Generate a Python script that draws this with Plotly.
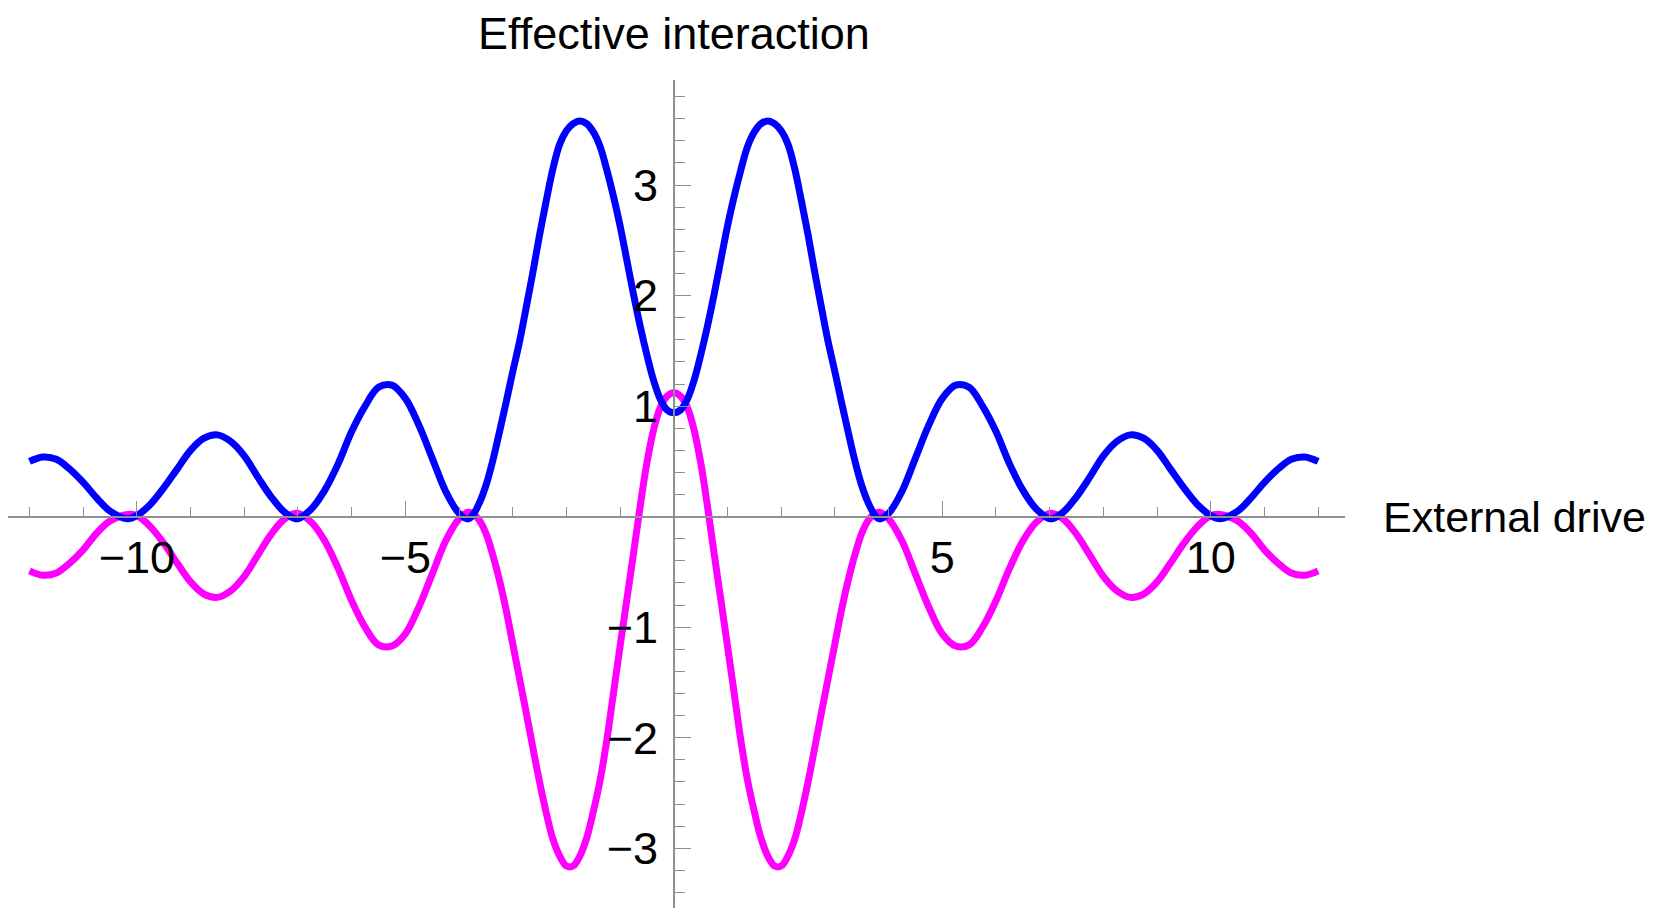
import plotly.graph_objects as go

# external drive (x) sample points
drive = [-12, -11.75, -11.5, -11.25, -11, -10.75, -10.5, -10.17, -10, -9.75,
         -9.5, -9.25, -9, -8.75, -8.5, -8.25, -8, -7.75, -7.5, -7.25,
         -7.02, -6.75, -6.5, -6.25, -6, -5.75, -5.5, -5.25, -5, -4.75,
         -4.5, -4.25, -4,
         -3.83, -3.75, -3.625, -3.5, -3.375, -3.25, -3.125, -3, -2.875, -2.75,
         -2.625, -2.5, -2.375, -2.25, -2.125, -2, -1.875, -1.75, -1.625, -1.5,
         -1.375, -1.25, -1.125, -1, -0.875, -0.75, -0.625, -0.5, -0.375, -0.25,
         -0.125,
         0,
         0.125, 0.25, 0.375, 0.5, 0.625, 0.75, 0.875, 1, 1.125, 1.25,
         1.375, 1.5, 1.625, 1.75, 1.875, 2, 2.125, 2.25, 2.375, 2.5,
         2.625, 2.75, 2.875, 3, 3.125, 3.25, 3.375, 3.5, 3.625, 3.75,
         3.83,
         4, 4.25, 4.5, 4.75, 5, 5.25, 5.5, 5.75, 6, 6.25,
         6.5, 6.75, 7.02, 7.25, 7.5, 7.75, 8, 8.25, 8.5, 8.75,
         9, 9.25, 9.5, 9.75, 10, 10.17, 10.5, 10.75, 11, 11.25,
         11.5, 11.75, 12]

# blue curve
blue_vals = [0.50, 0.54, 0.52, 0.43, 0.31, 0.17, 0.05, -0.02, 0.01, 0.11,
             0.26, 0.43, 0.60, 0.71, 0.74, 0.68, 0.55, 0.36, 0.18, 0.04,
             -0.02, 0.07, 0.24, 0.48, 0.77, 1.00, 1.17, 1.19, 1.07, 0.83,
             0.53, 0.23, 0.03,
             -0.02, 0.01, 0.12, 0.28, 0.50, 0.76, 1.03, 1.31, 1.58, 1.89,
             2.21, 2.55, 2.86, 3.15, 3.37, 3.49, 3.555, 3.58, 3.555, 3.48,
             3.35, 3.14, 2.90, 2.63, 2.32, 2.01, 1.72, 1.46, 1.23, 1.06,
             0.965,
             0.94,
             0.965, 1.06, 1.23, 1.46, 1.72, 2.01, 2.32, 2.63, 2.90, 3.14,
             3.35, 3.48, 3.555, 3.58, 3.555, 3.49, 3.37, 3.15, 2.86, 2.55,
             2.21, 1.89, 1.58, 1.31, 1.03, 0.76, 0.50, 0.28, 0.12, 0.01,
             -0.02,
             0.03, 0.23, 0.53, 0.83, 1.07, 1.19, 1.17, 1.00, 0.77, 0.48,
             0.24, 0.07, -0.02, 0.04, 0.18, 0.36, 0.55, 0.68, 0.74, 0.71,
             0.60, 0.43, 0.26, 0.11, 0.01, -0.02, 0.05, 0.17, 0.31, 0.43,
             0.52, 0.54, 0.50]

# magenta curve
magenta_vals = [-0.49, -0.53, -0.51, -0.42, -0.30, -0.15, -0.04, 0.02, 0.01, -0.09,
                -0.24, -0.42, -0.59, -0.70, -0.73, -0.67, -0.54, -0.35, -0.16, -0.02,
                0.03, -0.05, -0.22, -0.47, -0.76, -1.00, -1.16, -1.17, -1.06, -0.82,
                -0.52, -0.22, -0.02,
                0.04, 0.03, -0.03, -0.15, -0.34, -0.57, -0.84, -1.15, -1.46, -1.77,
                -2.09, -2.40, -2.68, -2.92, -3.07, -3.16, -3.16, -3.07, -2.91, -2.67,
                -2.39, -2.03, -1.60, -1.17, -0.75, -0.33, 0.10, 0.49, 0.79, 0.99,
                1.09,
                1.12,
                1.09, 0.99, 0.79, 0.49, 0.10, -0.33, -0.75, -1.17, -1.60, -2.03,
                -2.39, -2.67, -2.91, -3.07, -3.16, -3.16, -3.07, -2.92, -2.68, -2.40,
                -2.09, -1.77, -1.46, -1.15, -0.84, -0.57, -0.34, -0.15, -0.03, 0.03,
                0.04,
                -0.02, -0.22, -0.52, -0.82, -1.06, -1.17, -1.16, -1.00, -0.76, -0.47,
                -0.22, -0.05, 0.03, -0.02, -0.16, -0.35, -0.54, -0.67, -0.73, -0.70,
                -0.59, -0.42, -0.24, -0.09, 0.01, 0.02, -0.04, -0.15, -0.30, -0.42,
                -0.51, -0.53, -0.49]

x_ticks = [-10, -5, 5, 10]
y_ticks = [-3, -2, -1, 1, 2, 3]

# the page body adds an 8px offset, so the figure is sized to fit the rest of the window
x_range = [-12.40, 12.5]
y_range = [-3.54, 3.95]

font = "Liberation Sans, Arial, sans-serif"
axis_grey = "#8f8f8f"

fig = go.Figure()
fig.add_trace(go.Scatter(x=drive, y=magenta_vals, mode="lines",
                         line=dict(color="#ff00ff", width=7, shape="spline",
                                   smoothing=1, simplify=False)))
fig.add_trace(go.Scatter(x=drive, y=blue_vals, mode="lines",
                         line=dict(color="#0000ff", width=7, shape="spline",
                                   smoothing=1, simplify=False)))

fig.update_layout(
    width=1653, height=905,
    margin=dict(l=0, r=316, t=72, b=5, autoexpand=False),
    paper_bgcolor="white", plot_bgcolor="white",
    showlegend=False,
    font=dict(family=font, size=45, color="black"),
    xaxis=dict(
        range=x_range, anchor="free", automargin=False,
        position=(0 - y_range[0]) / (y_range[1] - y_range[0]),
        showgrid=False, zeroline=False,
        showline=True, linecolor=axis_grey, linewidth=1.5,
        tickmode="array", tickvals=x_ticks,
        ticks="inside", ticklen=15, tickwidth=1.2, tickcolor=axis_grey,
        ticklabelstandoff=2,
        minor=dict(tickmode="linear", tick0=0, dtick=1, ticks="inside",
                   ticklen=9, tickwidth=1.2, tickcolor=axis_grey),
    ),
    yaxis=dict(
        range=y_range, anchor="free", automargin=False,
        position=(0 - x_range[0]) / (x_range[1] - x_range[0]),
        showgrid=False, zeroline=False,
        showline=True, linecolor=axis_grey, linewidth=1.5,
        tickmode="array", tickvals=y_ticks,
        ticks="inside", ticklen=16, tickwidth=1.2, tickcolor=axis_grey,
        ticklabelstandoff=6,
        minor=dict(tickmode="linear", tick0=0, dtick=0.2, ticks="inside",
                   ticklen=10, tickwidth=1.2, tickcolor=axis_grey),
    ),
    annotations=[
        dict(text="Effective interaction", xref="x", x=0, yref="paper", y=1,
             xanchor="center", yanchor="middle", yshift=47, showarrow=False,
             font=dict(family=font, size=45, color="black")),
        dict(text="External drive", xref="paper", x=1, yref="y", y=0,
             xanchor="left", yanchor="middle", xshift=36, showarrow=False,
             font=dict(family=font, size=43, color="black")),
    ],
)

fig.write_html("out.html")
